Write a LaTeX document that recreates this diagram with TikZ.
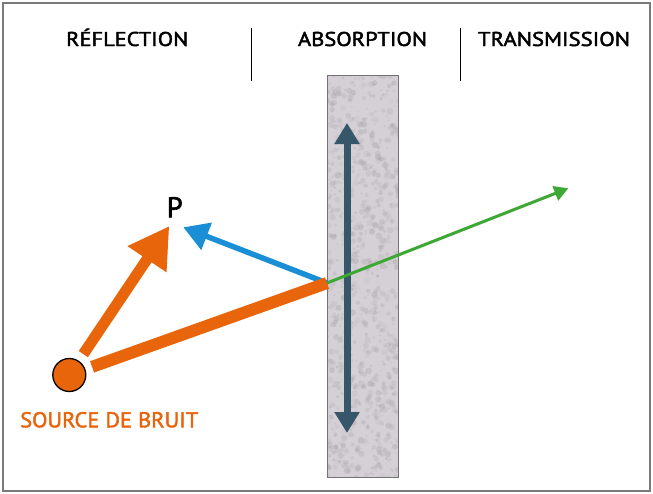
\documentclass[tikz,border=0pt]{standalone}
\usepackage{fontspec}
\setmainfont{PT Sans}
\newfontfamily\medfont{PT Sans}[FakeBold=2]
\usetikzlibrary{arrows.meta}
\definecolor{orng}{HTML}{E8650C}
\definecolor{blu}{HTML}{1B8FD6}
\definecolor{grn}{HTML}{3DA835}
\definecolor{slate}{HTML}{36566A}
\definecolor{wallfill}{HTML}{D4D0D5}
\definecolor{wallspot}{HTML}{A9A5AA}
\definecolor{framegray}{HTML}{7A7A7A}
\newcommand{\capfit}[3]{\resizebox{#1}{#2}{\medfont\smash{#3}\vphantom{H}}}
\tikzset{
  heading/.style={inner sep=0pt, anchor=base, text=black},
  sepline/.style={draw=black, line width=0.9pt},
  orangearrow/.style={draw=orng, line width=11pt, -{Triangle[width=44pt,length=40pt]}},
  orangeline/.style={draw=orng, line width=12pt},
  bluearrow/.style={draw=blu, line width=5.5pt, -{Triangle[width=28pt,length=25pt]}},
  greenarrow/.style={draw=grn, line width=3pt, -{Triangle[width=15pt,length=14pt]}},
  slatearrow/.style={draw=slate, line width=7pt, {Triangle[width=24pt,length=21pt]}-{Triangle[width=24pt,length=21pt]}},
  sourcedot/.style={circle, fill=orng, draw=black, line width=1.3pt, minimum size=33pt, inner sep=0pt},
}
\begin{document}
\begin{tikzpicture}[x=1pt,y=-1pt]
\useasboundingbox (0,0) rectangle (653,493);
\fill[white] (0,0) rectangle (653,493);
\draw[framegray, line width=2pt] (3,2.5) rectangle (649.5,491);

% headings
\node[heading] (refl) at (127.2,46) {\capfit{122pt}{14pt}{RÉFLECTION}};
\node[heading] (abs) at (362.5,46) {\capfit{129pt}{14pt}{ABSORPTION}};
\node[heading] (trans) at (554,46) {\capfit{152pt}{14pt}{TRANSMISSION}};
\coordinate (s1a) at (251.7,28);
\coordinate (s1b) at (251.7,81);
\coordinate (s2a) at (460.7,28);
\coordinate (s2b) at (460.7,81);
\draw[sepline] (s1a) -- (s1b);
\draw[sepline] (s2a) -- (s2b);

% wall
\fill[wallfill] (327,75) rectangle (398.5,477);
\begin{scope}
\clip (327,75) rectangle (398.5,477);
\pgfmathsetseed{11}
\foreach \i in {1,...,900} {
  \pgfmathsetmacro{\xx}{327+71.5*rnd}
  \pgfmathsetmacro{\yy}{75+402*rnd}
  \pgfmathsetmacro{\rr}{0.8+2.6*rnd}
  \pgfmathsetmacro{\oo}{0.1+0.3*rnd}
  \fill[wallspot, opacity=\oo] (\xx,\yy) circle ({\rr pt});
}
\end{scope}
\draw[draw=black!55, line width=0.9pt] (327,75) rectangle (398.5,477);
\coordinate (atop) at (347,123);
\coordinate (abot) at (347,433);
\draw[slatearrow] (abot) -- (atop);

% rays
\node[sourcedot] (src) at (69.3,375) {};
\coordinate (hit) at (327,283);
\coordinate (ptip) at (169.3,226);
\coordinate (btip) at (183.3,227.3);
\coordinate (gtip) at (568.3,188.3);
\node[inner sep=0pt, anchor=base] (P) at (174.7,217.3) {\capfit{16pt}{20pt}{P}};

\draw[greenarrow] (hit) -- (gtip);
\draw[bluearrow] (hit) -- (btip);
\draw[orangeline, shorten <=7pt] (src) -- (hit);
\draw[orangearrow, shorten <=8pt] (src) -- (ptip);

\node[inner sep=0pt, anchor=base, text=orng] (srclabel) at (109.2,427.3) {\capfit{178pt}{15pt}{SOURCE DE BRUIT}};
\end{tikzpicture}
\end{document}
